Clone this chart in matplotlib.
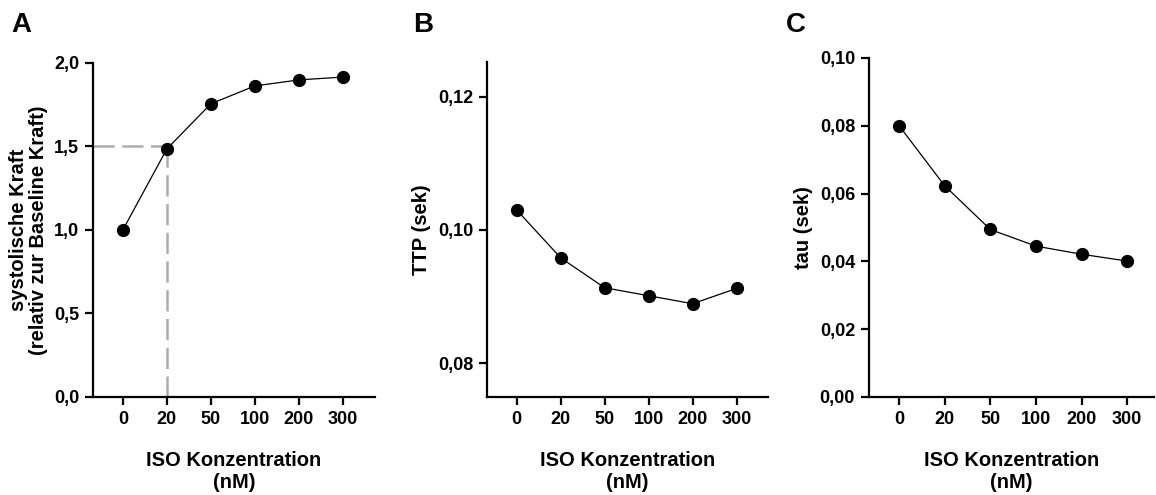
import matplotlib
matplotlib.use("Agg")
import matplotlib.pyplot as plt
from matplotlib.ticker import FuncFormatter

plt.rcParams["font.family"] = ["Liberation Sans", "DejaVu Sans"]
plt.rcParams["font.weight"] = "bold"

# data
iso_labels = ["0", "20", "50", "100", "200", "300"]
force = [1.00, 1.485, 1.755, 1.862, 1.898, 1.915]
ttp = [0.1030, 0.0958, 0.0913, 0.0901, 0.0889, 0.0912]
tau = [0.0800, 0.0623, 0.0494, 0.0445, 0.0421, 0.0401]

force_ticks = [0.0, 0.5, 1.0, 1.5, 2.0]
ttp_ticks = [0.08, 0.10, 0.12]
tau_ticks = [0.00, 0.02, 0.04, 0.06, 0.08, 0.10]

# half-maximum guide in panel A
guide_x = 1
guide_y = 1.5


def comma_fmt(decimals):
    return FuncFormatter(lambda v, _: f"{v:.{decimals}f}".replace(".", ","))


def style(ax, ylabel, yticks, ylim, xlim, decimals, ypad):
    xs = range(len(iso_labels))
    for side in ("top", "right"):
        ax.spines[side].set_visible(False)
    for side in ("left", "bottom"):
        ax.spines[side].set_linewidth(1.6)
    ax.set_xticks(list(xs))
    ax.set_xticklabels(iso_labels)
    ax.set_xlim(*xlim)
    ax.set_yticks(yticks)
    ax.set_ylim(*ylim)
    ax.yaxis.set_major_formatter(comma_fmt(decimals))
    ax.tick_params(direction="out", length=6, width=1.6, labelsize=13, pad=4)
    for lab in ax.get_xticklabels() + ax.get_yticklabels():
        lab.set_fontweight("bold")
    ax.set_xlabel("ISO Konzentration\n(nM)", fontsize=14.5, fontweight="bold",
                  labelpad=17, linespacing=1.15)
    ax.set_ylabel(ylabel, fontsize=14.5, fontweight="bold", labelpad=ypad,
                  linespacing=1.1)


fig = plt.figure(figsize=(11.56, 4.95), dpi=100)
ax_a = fig.add_axes([0.0804, 0.198, 0.244, 0.675])
ax_b = fig.add_axes([0.4213, 0.198, 0.243, 0.677])
ax_c = fig.add_axes([0.7517, 0.198, 0.247, 0.685])

xs = list(range(len(iso_labels)))
for ax, vals in ((ax_a, force), (ax_b, ttp), (ax_c, tau)):
    ax.plot(xs, vals, color="black", lw=0.9, marker="o", ms=8.5, zorder=3,
            clip_on=False)

xlim_a = (-0.68, 5.73)
dash = (0, (8.5, 3))
ax_a.plot([xlim_a[0], guide_x], [guide_y, guide_y], color="#adadad", lw=1.8,
          ls=dash, zorder=2, clip_on=False)
ax_a.plot([guide_x, guide_x], [guide_y, 0], color="#adadad", lw=1.8,
          ls=dash, zorder=2, clip_on=False)

style(ax_a, "systolische Kraft\n(relativ zur Baseline Kraft)", force_ticks,
      (0, 2.0), xlim_a, 1, 4)
style(ax_b, "TTP (sek)", ttp_ticks, (0.0749, 0.1252), (-0.67, 5.71), 2, 5)
style(ax_c, "tau (sek)", tau_ticks, (0, 0.10), (-0.66, 5.6), 2, 5)

for letter, x in (("A", 0.010), ("B", 0.357), ("C", 0.680)):
    fig.text(x, 0.975, letter, fontsize=20, fontweight="bold", va="top")

fig.savefig("out.png", dpi=100)
